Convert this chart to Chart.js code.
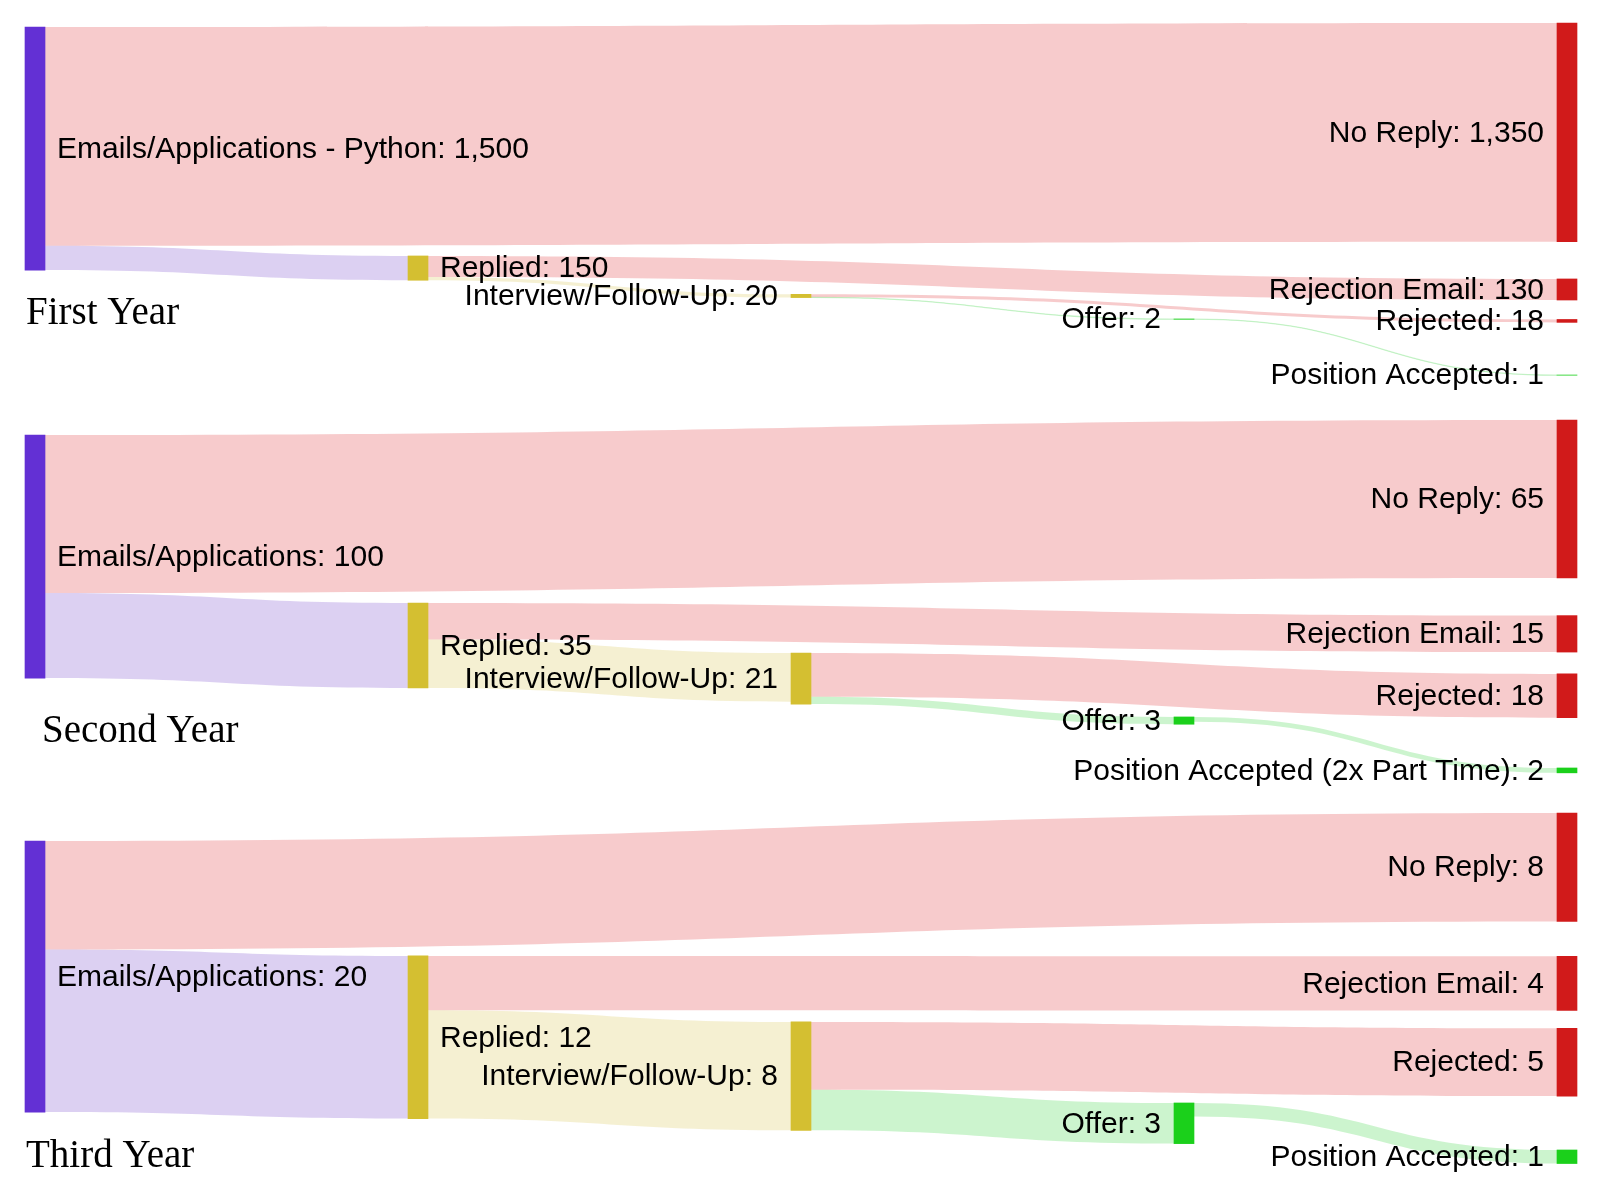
<!DOCTYPE html>
<html>
<head>
<meta charset="utf-8">
<script src="https://cdn.jsdelivr.net/npm/chart.js@4.4.1/dist/chart.umd.min.js"></script>
<style>
  html, body { margin: 0; padding: 0; background: #fff; }
  #wrap { width: 1600px; height: 1190px; }
</style>
</head>
<body>
<div id="wrap"><canvas id="sankey" width="1600" height="1190"></canvas></div>
<script>
// Data: one sankey per year, same node/link structure
const yearTitles = ["First Year", "Second Year", "Third Year"];

const nodeNames = [
  ["Emails/Applications - Python", "Replied", "Interview/Follow-Up", "Offer",
   "No Reply", "Rejection Email", "Rejected", "Position Accepted"],
  ["Emails/Applications", "Replied", "Interview/Follow-Up", "Offer",
   "No Reply", "Rejection Email", "Rejected", "Position Accepted (2x Part Time)"],
  ["Emails/Applications", "Replied", "Interview/Follow-Up", "Offer",
   "No Reply", "Rejection Email", "Rejected", "Position Accepted"],
];
const nodeColumns = [0, 1, 2, 3, 4, 4, 4, 4];

const linkSource = [0, 0, 1, 1, 2, 2, 3];
const linkTarget = [4, 1, 5, 2, 6, 3, 7];
const linkValues = [
  [1350, 150, 130, 20, 18, 2, 1],
  [65, 35, 15, 20, 18, 3, 2],
  [8, 12, 4, 8, 5, 3, 1],
];

// Layout (not data): node tops in each year's value units, and axis mapping
const nodeTops = [
  [25, 1438, 1675, 1827, 0, 1580, 1830, 2173],
  [6.2, 75.3, 95.9, 122.2, 0, 80.5, 104.5, 143.2],
  [2.07, 10.55, 15.42, 21.4, 0, 10.57, 15.89, 24.87],
];
const axisZeroPx = [23, 420, 813];
const axisPxPerUnit = [0.162, 2.43, 13.55];
const titlePos = [[26, 324], [42, 742], [26, 1167]];

const PURPLE = "#6330d4", MUSTARD = "#d4bf31", RED = "#d11a1a", GREEN = "#1bd01b";
const nodeColors = [PURPLE, MUSTARD, MUSTARD, GREEN, RED, RED, RED, GREEN];
const PINK_L = "rgba(223,47,51,0.25)", LAV_L = "rgba(115,67,203,0.25)",
      YEL_L = "rgba(215,195,75,0.25)", GRN_L = "rgba(51,211,59,0.25)";
const linkColors = [PINK_L, LAV_L, PINK_L, YEL_L, PINK_L, GRN_L, GRN_L];

const NODE_W = 20;
const LABEL_FONT = '30px "Liberation Sans", Arial, sans-serif';
const TITLE_FONT = '39px "Liberation Serif", "Times New Roman", serif';

// node value = max(inflow, outflow)
function nodeValues(y) {
  const inV = nodeNames[y].map(() => 0), outV = nodeNames[y].map(() => 0);
  linkValues[y].forEach((v, i) => {
    outV[linkSource[i]] += v;
    inV[linkTarget[i]] += v;
  });
  return inV.map((v, i) => Math.max(v, outV[i]));
}

const datasets = yearTitles.map((t, y) => {
  const vals = nodeValues(y);
  return {
    label: t,
    yAxisID: "y" + (y + 1),
    data: nodeNames[y].map((n, i) => ({
      x: nodeColumns[i],
      y: [nodeTops[y][i], nodeTops[y][i] + vals[i]],
    })),
    backgroundColor: nodeColors,
    barThickness: NODE_W,
    grouped: false,
    clip: false,
    borderWidth: 0,
    borderSkipped: false,
  };
});

const yScales = {};
yearTitles.forEach((t, y) => {
  yScales["y" + (y + 1)] = {
    type: "linear",
    reverse: true,
    display: false,
    min: -axisZeroPx[y] / axisPxPerUnit[y],
    max: (1190 - axisZeroPx[y]) / axisPxPerUnit[y],
  };
});

// Draw links as bezier bands under the nodes
const flowPlugin = {
  id: "flows",
  beforeDatasetsDraw(chart) {
    const ctx = chart.ctx;
    const xs = chart.scales.x;
    yearTitles.forEach((t, y) => {
      const ys = chart.scales["y" + (y + 1)];
      const outOff = nodeNames[y].map(() => 0);
      const inOff = nodeNames[y].map(() => 0);
      linkValues[y].forEach((v, i) => {
        const s = linkSource[i], g = linkTarget[i];
        const x0 = xs.getPixelForValue(nodeColumns[s]) + NODE_W / 2;
        const x1 = xs.getPixelForValue(nodeColumns[g]) - NODE_W / 2;
        const xm = (x0 + x1) / 2;
        const y0a = ys.getPixelForValue(nodeTops[y][s] + outOff[s]);
        const y0b = ys.getPixelForValue(nodeTops[y][s] + outOff[s] + v);
        const y1a = ys.getPixelForValue(nodeTops[y][g] + inOff[g]);
        const y1b = ys.getPixelForValue(nodeTops[y][g] + inOff[g] + v);
        outOff[s] += v;
        inOff[g] += v;
        ctx.save();
        ctx.fillStyle = linkColors[i];
        ctx.beginPath();
        ctx.moveTo(x0, y0a);
        ctx.bezierCurveTo(xm, y0a, xm, y1a, x1, y1a);
        ctx.lineTo(x1, y1b);
        ctx.bezierCurveTo(xm, y1b, xm, y0b, x0, y0b);
        ctx.closePath();
        ctx.fill();
        if (Math.abs(y0b - y0a) < 1.5) {
          // keep hairline links visible
          const c0 = (y0a + y0b) / 2, c1 = (y1a + y1b) / 2;
          ctx.strokeStyle = linkColors[i];
          ctx.lineWidth = 1.3;
          ctx.beginPath();
          ctx.moveTo(x0, c0);
          ctx.bezierCurveTo(xm, c0, xm, c1, x1, c1);
          ctx.stroke();
        }
        ctx.restore();
      });
    });
  },
};

// Node labels and year titles
const labelPlugin = {
  id: "labels",
  afterDatasetsDraw(chart) {
    const ctx = chart.ctx;
    const xs = chart.scales.x;
    ctx.save();
    yearTitles.forEach((t, y) => {
      const ys = chart.scales["y" + (y + 1)];
      const vals = nodeValues(y);
      ctx.font = LABEL_FONT;
      ctx.fillStyle = "#000";
      ctx.textBaseline = "middle";
      nodeNames[y].forEach((n, i) => {
        const cx = xs.getPixelForValue(nodeColumns[i]);
        const cy = (ys.getPixelForValue(nodeTops[y][i]) +
                    ys.getPixelForValue(nodeTops[y][i] + vals[i])) / 2;
        const txt = n + ": " + vals[i].toLocaleString("en-US");
        if (nodeColumns[i] < 2) {
          ctx.textAlign = "left";
          ctx.fillText(txt, cx + NODE_W / 2 + 12, cy + 1);
        } else {
          ctx.textAlign = "right";
          ctx.fillText(txt, cx - NODE_W / 2 - 13, cy + 1);
        }
      });
      ctx.font = TITLE_FONT;
      ctx.textAlign = "left";
      ctx.textBaseline = "alphabetic";
      ctx.fillText(t, titlePos[y][0], titlePos[y][1]);
    });
    ctx.restore();
  },
};

new Chart(document.getElementById("sankey"), {
  type: "bar",
  data: { datasets },
  options: {
    responsive: false,
    devicePixelRatio: 1,
    animation: false,
    events: [],
    layout: { padding: { left: 35, right: 33, top: 0, bottom: 0 } },
    plugins: { legend: { display: false }, tooltip: { enabled: false } },
    scales: Object.assign(
      { x: { type: "linear", min: 0, max: 4, offset: false, display: false } },
      yScales
    ),
  },
  plugins: [flowPlugin, labelPlugin],
});
</script>
</body>
</html>
